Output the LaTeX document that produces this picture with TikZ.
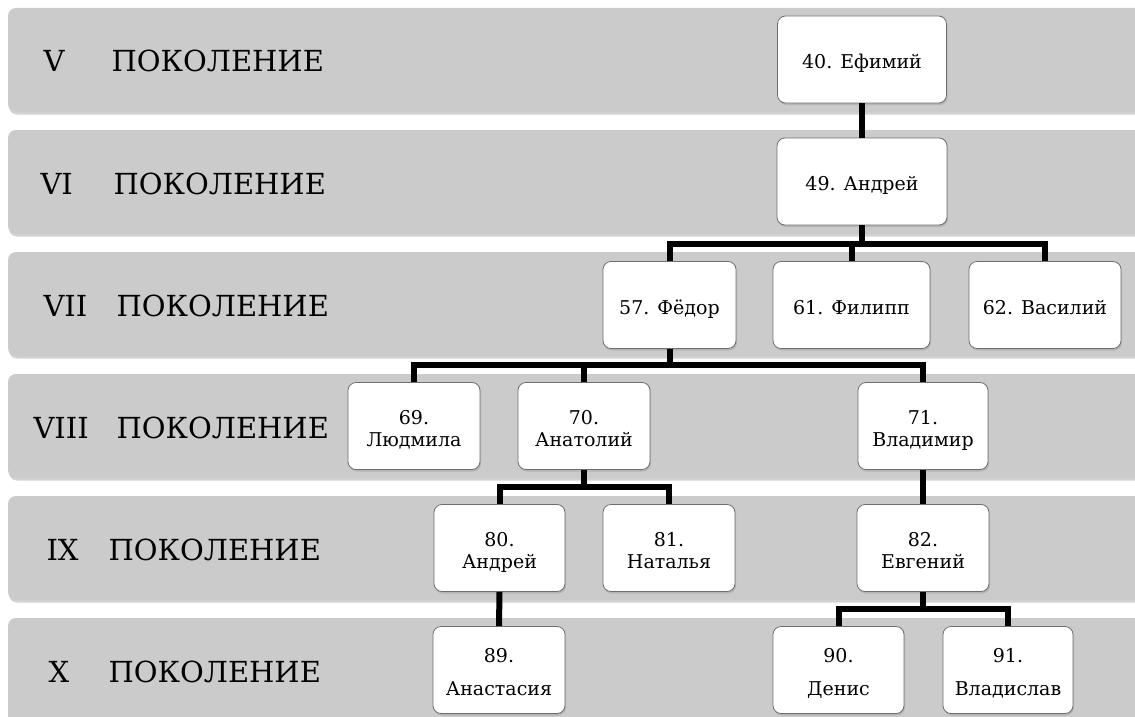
\documentclass[tikz,border=0pt]{standalone}
\usepackage{fontspec}
\setmainfont{DejaVu Serif}
\usetikzlibrary{shadows}
\definecolor{bandgray}{RGB}{203,203,203}
\definecolor{boxedge}{RGB}{110,110,110}
\newcommand\tallrow{\rule{0pt}{25pt}}
\tikzset{
  band/.style={fill=bandgray,rounded corners=8pt,
    drop shadow={opacity=0.35,shadow xshift=1pt,shadow yshift=-2.5pt}},
  gen/.style={anchor=base west,font=\rmfamily\fontsize{29}{35}\selectfont},
  person/.style={draw=boxedge,line width=0.8pt,fill=white,rounded corners=8pt,
    minimum height=87pt,align=center,inner sep=2pt,
    font=\rmfamily\fontsize{19}{22}\selectfont,
    drop shadow={opacity=0.3,shadow xshift=1pt,shadow yshift=-2pt}},
  link/.style={line width=6pt},
}
\begin{document}
\begin{tikzpicture}[x=1pt,y=-1pt]
  \useasboundingbox (0,0) rectangle (1135,717);
  \clip (0,0) rectangle (1135,717);
  \path[band] (8,8) rectangle (1160,112);
  \path[band] (8,130) rectangle (1160,234);
  \path[band] (8,252) rectangle (1160,356);
  \path[band] (8,374) rectangle (1160,478);
  \path[band] (8,496) rectangle (1160,600);
  \path[band] (8,618) rectangle (1160,740);
  \node[gen] (g5) at (40,72) {V};
  \node[gen] (t5) at (108,72) {ПОКОЛЕНИЕ};
  \node[gen] (g6) at (37,194) {VI};
  \node[gen] (t6) at (110,194) {ПОКОЛЕНИЕ};
  \node[gen] (g7) at (40,316) {VII};
  \node[gen] (t7) at (113,316) {ПОКОЛЕНИЕ};
  \node[gen] (g8) at (30,438) {VIII};
  \node[gen] (t8) at (113,438) {ПОКОЛЕНИЕ};
  \node[gen] (g9) at (43,560) {IX};
  \node[gen] (t9) at (105,560) {ПОКОЛЕНИЕ};
  \node[gen] (g10) at (45,682) {X};
  \node[gen] (t10) at (105,682) {ПОКОЛЕНИЕ};
  \node[person,minimum width=169pt] (p40) at (862,59.5) {\tallrow40. Ефимий\strut};
  \node[person,minimum width=170pt] (p49) at (862,181.5) {\tallrow49. Андрей\strut};
  \node[person,minimum width=133pt] (p57) at (669.5,305) {\tallrow57. Фёдор\strut};
  \node[person,minimum width=157pt] (p61) at (851.5,305) {\tallrow61. Филипп\strut};
  \node[person,minimum width=152pt] (p62) at (1045,305) {\tallrow62. Василий\strut};
  \node[person,minimum width=132pt] (p69) at (414,426) {\tallrow69.\\Людмила\strut};
  \node[person,minimum width=132pt] (p70) at (584,426) {\tallrow70.\\Анатолий\strut};
  \node[person,minimum width=130pt] (p71) at (923,426) {\tallrow71.\\Владимир\strut};
  \node[person,minimum width=131pt] (p80) at (499.5,548) {\tallrow80.\\Андрей\strut};
  \node[person,minimum width=132pt] (p81) at (669,548) {\tallrow81.\\Наталья\strut};
  \node[person,minimum width=132pt] (p82) at (923,548) {\tallrow82.\\Евгений\strut};
  \node[person,minimum width=132pt] (p89) at (499,670) {\tallrow89.\\[11pt]Анастасия\strut};
  \node[person,minimum width=131pt] (p90) at (838.5,670) {\tallrow90.\\[11pt]Денис\strut};
  \node[person,minimum width=130pt] (p91) at (1008,670) {\tallrow91.\\[11pt]Владислав\strut};
  \coordinate (j49) at (862,243.5);
  \coordinate (j57) at (669.5,365);
  \coordinate (j70) at (584,487);
  \coordinate (j82) at (923,608.5);
  \draw[link]
    (p40.south)
    --
    (p49.north);
  \draw[link]
    (p49.south)
    --
    (j49);
  \draw[link]
    (p57.north)
    |-
    (j49)
    -|
    (p62.north);
  \draw[link]
    (p61.north)
    --
    (p61.north |- j49);
  \draw[link]
    (p57.south)
    --
    (j57);
  \draw[link]
    (p69.north)
    |-
    (j57)
    -|
    (p71.north);
  \draw[link]
    (p70.north)
    --
    (p70.north |- j57);
  \draw[link]
    (p71.south)
    --
    (p82.north);
  \draw[link]
    (p70.south)
    --
    (j70);
  \draw[link]
    (p80.north)
    |-
    (j70)
    -|
    (p81.north);
  \draw[link]
    (p80.south)
    --
    (p89.north);
  \draw[link]
    (p82.south)
    --
    (j82);
  \draw[link]
    (p90.north)
    |-
    (j82)
    -|
    (p91.north);
\end{tikzpicture}
\end{document}
